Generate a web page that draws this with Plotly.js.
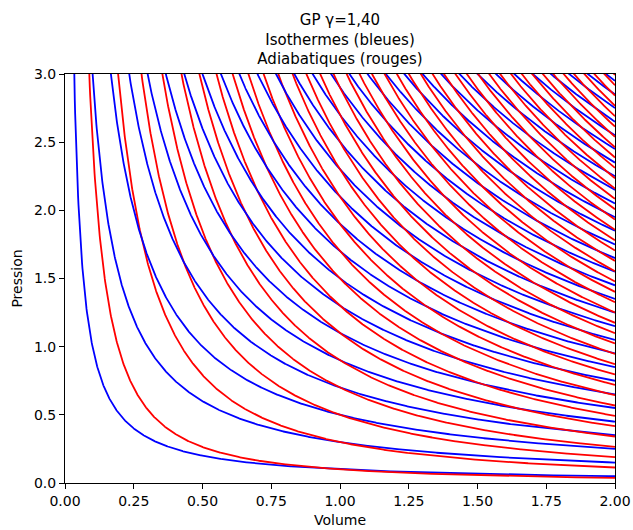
<!DOCTYPE html>
<html>
<head>
<meta charset="utf-8">
<script src="https://cdn.plot.ly/plotly-3.0.1.min.js"></script>
<style>
  html, body { margin: 0; padding: 0; background: #fff; }
  #chart { width: 633px; height: 530px; }
</style>
</head>
<body>
<div id="chart"></div>
<script>
// Data
const gamma = 1.4;
// Isotherm constants (P*V = k), blue curves
const isothermConstants = [0.1, 0.3, 0.5, 0.7, 0.9, 1.1, 1.3, 1.5, 1.7, 1.9,
  2.1, 2.3, 2.5, 2.7, 2.9, 3.1, 3.3, 3.5, 3.7, 3.9,
  4.1, 4.3, 4.5, 4.7, 4.9, 5.1, 5.3, 5.5, 5.7, 5.9,
  6.1, 6.3, 6.5, 6.7, 6.9, 7.1, 7.3, 7.5, 7.7, 7.9];
// Adiabat constants (P*V^gamma = c), red curves
const adiabatConstants = [0.1, 0.3, 0.5, 0.7, 0.9, 1.1, 1.3, 1.5, 1.7, 1.9,
  2.1, 2.3, 2.5, 2.7, 2.9, 3.1, 3.3, 3.5, 3.7, 3.9,
  4.1, 4.3, 4.5, 4.7, 4.9, 5.1, 5.3, 5.5, 5.7, 5.9,
  6.1, 6.3, 6.5, 6.7, 6.9, 7.1, 7.3, 7.5, 7.7, 7.9];
const xTickVals = [0, 0.25, 0.5, 0.75, 1.0, 1.25, 1.5, 1.75, 2.0];
const xTickText = ["0.00", "0.25", "0.50", "0.75", "1.00", "1.25", "1.50", "1.75", "2.00"];
const yTickVals = [0, 0.5, 1.0, 1.5, 2.0, 2.5, 3.0];
const yTickText = ["0.0", "0.5", "1.0", "1.5", "2.0", "2.5", "3.0"];

// Sampling grid in volume
const vMin = 0.005, vMax = 2.0, nPts = 1500;
const V = [];
for (let i = 0; i < nPts; i++) V.push(vMin + (vMax - vMin) * i / (nPts - 1));

const traces = [];
for (let i = 0; i < isothermConstants.length; i++) {
  const k = isothermConstants[i];
  traces.push({
    x: V, y: V.map(v => k / v), type: 'scatter', mode: 'lines',
    line: { color: '#0000ff', width: 1.8 }, hoverinfo: 'skip', showlegend: false
  });
  const c = adiabatConstants[i];
  traces.push({
    x: V, y: V.map(v => c / Math.pow(v, gamma)), type: 'scatter', mode: 'lines',
    line: { color: '#ff0000', width: 1.8 }, hoverinfo: 'skip', showlegend: false
  });
}

const font = { family: 'DejaVu Sans, sans-serif', size: 14, color: '#000' };
const layout = {
  width: 633, height: 530,
  margin: { l: 65, r: 18, t: 74, b: 47 },
  paper_bgcolor: '#fff', plot_bgcolor: '#fff',
  font: font,
  showlegend: false,
  title: {
    text: 'GP γ=1,40<br>Isothermes (bleues)<br>Adiabatiques (rouges)',
    font: { family: 'DejaVu Sans, sans-serif', size: 15, color: '#000' },
    x: 0.5, xref: 'paper', xanchor: 'center',
    y: 0.952, yref: 'container', yanchor: 'top'
  },
  xaxis: {
    range: [0, 2], tickvals: xTickVals, ticktext: xTickText,
    ticks: 'outside', ticklen: 5, tickwidth: 1, tickcolor: '#000',
    showline: true, linecolor: '#000', linewidth: 1, mirror: true,
    showgrid: false, zeroline: false,
    title: { text: 'Volume', font: font, standoff: 7 },
    tickfont: font
  },
  yaxis: {
    range: [0, 3], tickvals: yTickVals, ticktext: yTickText,
    ticks: 'outside', ticklen: 5, tickwidth: 1, tickcolor: '#000',
    showline: true, linecolor: '#000', linewidth: 1, mirror: true,
    showgrid: false, zeroline: false,
    title: { text: 'Pression', font: font, standoff: 8 },
    tickfont: font
  }
};

Plotly.newPlot('chart', traces, layout, { staticPlot: true, displayModeBar: false });
</script>
</body>
</html>
